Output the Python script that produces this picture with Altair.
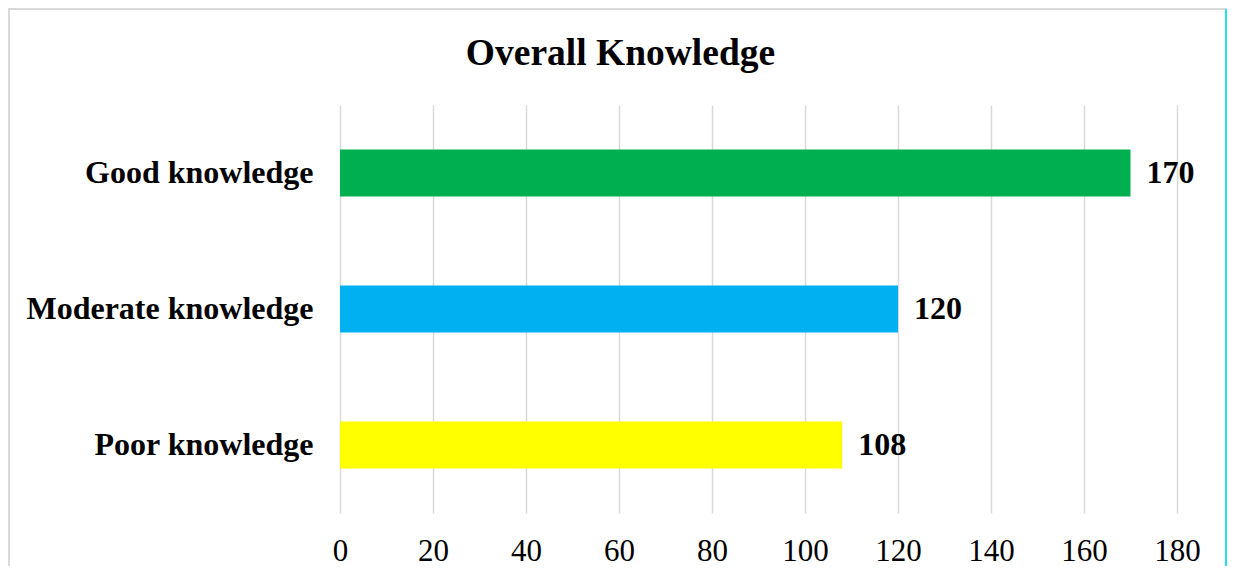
import altair as alt
import pandas as pd

categories = ["Good knowledge", "Moderate knowledge", "Poor knowledge"]
values = [170, 120, 108]
colors = ["#00B050", "#00B0F0", "#FFFF00"]
x_ticks = [0, 20, 40, 60, 80, 100, 120, 140, 160, 180]

df = pd.DataFrame({"category": categories, "value": values, "color": colors})

FONT = "Liberation Serif"

y_enc = alt.Y(
    "category:N",
    sort=categories,
    scale=alt.Scale(paddingInner=0.654, paddingOuter=0.327),
    axis=alt.Axis(
        title=None, domain=False, ticks=False, tickSize=0, grid=False,
        labelFont=FONT, labelFontSize=32, labelFontWeight="bold",
        labelColor="#000000", labelPadding=27, labelLimit=400,
    ),
)
x_enc = alt.X(
    "value:Q",
    scale=alt.Scale(domain=[0, 180], nice=False),
    axis=alt.Axis(
        title=None, values=x_ticks, domain=False, ticks=False, tickSize=0,
        grid=True, gridColor="#d9d9d9", gridWidth=1.5,
        labelFont=FONT, labelFontSize=31, labelColor="#000000",
        labelPadding=23, labelFlush=False,
    ),
)

bars = alt.Chart(df).mark_bar().encode(
    x=x_enc,
    y=y_enc,
    color=alt.Color("color:N", scale=None),
)

text = alt.Chart(df).mark_text(
    align="left", baseline="middle", dx=16,
    font=FONT, fontSize=32, fontWeight="bold", color="#000000",
).encode(
    x="value:Q",
    y=alt.Y("category:N", sort=categories),
    text="value:Q",
)

frame_df = pd.DataFrame({"k": [0]})
top_border = alt.Chart(frame_df).mark_rule(color="#d9d9d9", strokeWidth=2).encode(
    x=alt.value(-332), x2=alt.value(887), y=alt.value(-96)
)
left_border = alt.Chart(frame_df).mark_rule(color="#d9d9d9", strokeWidth=2).encode(
    x=alt.value(-331), y=alt.value(-96), y2=alt.value(470)
)
right_border = alt.Chart(frame_df).mark_rule(color="#22e0f0", strokeWidth=2).encode(
    x=alt.value(886), y=alt.value(-96), y2=alt.value(470)
)

chart = alt.layer(top_border, left_border, right_border, bars, text).properties(
    width=837,
    height=408,
    padding={"left": 332, "top": 97, "right": 51, "bottom": 53},
    autosize=alt.AutoSizeParams(type="none"),
    background="#ffffff",
    title=alt.TitleParams(
        "Overall Knowledge", font=FONT, fontSize=37.5, fontWeight="bold",
        color="#000000", anchor="middle", frame="group", dx=-138,
        baseline="alphabetic", offset=-94,
    ),
).configure_view(stroke=None)

chart.save("out.html", embed_options={"renderer": "svg", "actions": False})
